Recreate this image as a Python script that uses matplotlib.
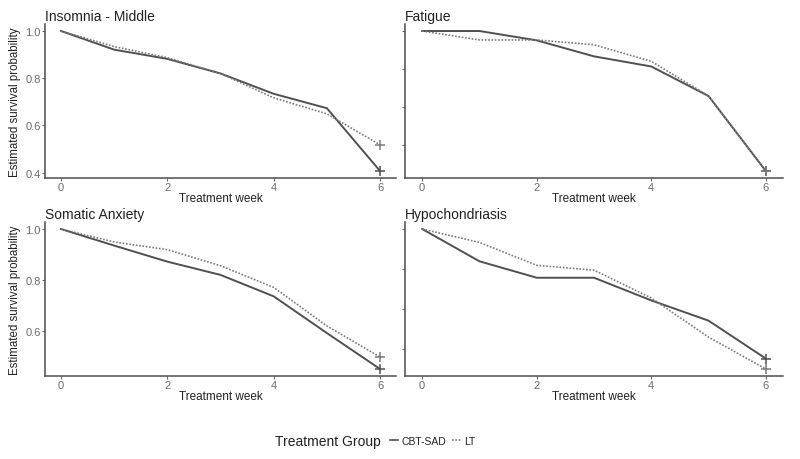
import matplotlib
matplotlib.use("Agg")
import matplotlib.pyplot as plt
from matplotlib.lines import Line2D

plt.rcParams["font.family"] = ["Liberation Sans", "DejaVu Sans"]

weeks = [0, 1, 2, 3, 4, 5, 6]

titles = ["Insomnia - Middle", "Fatigue", "Somatic Anxiety", "Hypochondriasis"]

# estimated survival probability per week
cbt_sad = [
    [1.0, 0.921, 0.882, 0.820, 0.734, 0.673, 0.407],
    [1.0, 1.0, 0.951, 0.867, 0.814, 0.659, 0.266],
    [1.0, 0.935, 0.872, 0.820, 0.736, 0.592, 0.451],
    [1.0, 0.839, 0.757, 0.757, 0.644, 0.543, 0.354],
]
lt = [
    [1.0, 0.934, 0.887, 0.820, 0.717, 0.649, 0.518],
    [1.0, 0.953, 0.953, 0.928, 0.841, 0.659, 0.266],
    [1.0, 0.949, 0.919, 0.856, 0.771, 0.620, 0.498],
    [1.0, 0.933, 0.819, 0.795, 0.656, 0.461, 0.302],
]

solid_col = "#505050"
dot_col = "#7a7a7a"
axis_col = "#4d4d4d"
tick_col = "#6b6b6b"

fig = plt.figure(figsize=(8, 4.6), dpi=100)

# left, bottom, width, height in figure fraction
boxes = [
    [45 / 800, 1 - 179 / 460, 351 / 800, 154 / 460],
    [405 / 800, 1 - 179 / 460, 378 / 800, 154 / 460],
    [45 / 800, 1 - 377 / 460, 351 / 800, 154 / 460],
    [405 / 800, 1 - 377 / 460, 378 / 800, 154 / 460],
]

for i in range(4):
    ax = fig.add_axes(boxes[i])
    ax.plot(weeks, cbt_sad[i], color=solid_col, lw=1.4, ls="-")
    ax.plot(weeks, lt[i], color=dot_col, lw=1.2, ls=(0, (1, 1)))
    ax.plot(weeks[-1], cbt_sad[i][-1], marker="+", color=solid_col, ms=7, mew=1.1)
    ax.plot(weeks[-1], lt[i][-1], marker="+", color=dot_col, ms=7, mew=1.1)

    lo = min(min(cbt_sad[i]), min(lt[i]))
    span = 1.0 - lo
    ax.set_ylim(lo - 0.05 * span, 1.0 + 0.05 * span)
    ax.set_xlim(-0.3, 6.3)
    ax.set_xticks([0, 2, 4, 6])
    ax.set_yticks([y for y in [0.2, 0.4, 0.6, 0.8, 1.0] if y >= lo - 0.05 * span])

    for s in ["top", "right"]:
        ax.spines[s].set_visible(False)
    for s in ["left", "bottom"]:
        ax.spines[s].set_color(axis_col)
        ax.spines[s].set_linewidth(1.1)
    ax.tick_params(colors=tick_col, labelsize=8, length=2.2, width=0.8, pad=1)
    ax.set_xlabel("Treatment week", fontsize=8.5, color="#222222", labelpad=0)
    ax.set_title(titles[i], loc="left", fontsize=10, color="#222222", pad=3)
    if i % 2 == 0:
        ax.set_ylabel("Estimated survival probability", fontsize=8.3, color="#222222", labelpad=3)
    else:
        ax.set_yticklabels([])

fig.text(275 / 800, 1 - 442 / 460, "Treatment Group", fontsize=10, color="#222222",
         ha="left", va="center")
handles = [
    Line2D([], [], color=solid_col, lw=1.2, ls="-"),
    Line2D([], [], color=dot_col, lw=1.2, ls=(0, (1, 1))),
]
fig.legend(handles, ["CBT-SAD", "LT"], loc="center left",
           bbox_to_anchor=(390 / 800, 1 - 442 / 460), ncol=2, frameon=False,
           fontsize=7.5, handlelength=0.8, handletextpad=0.3, columnspacing=0.6,
           borderaxespad=0, borderpad=0, labelcolor="#222222")

fig.savefig("out.png", dpi=100)
